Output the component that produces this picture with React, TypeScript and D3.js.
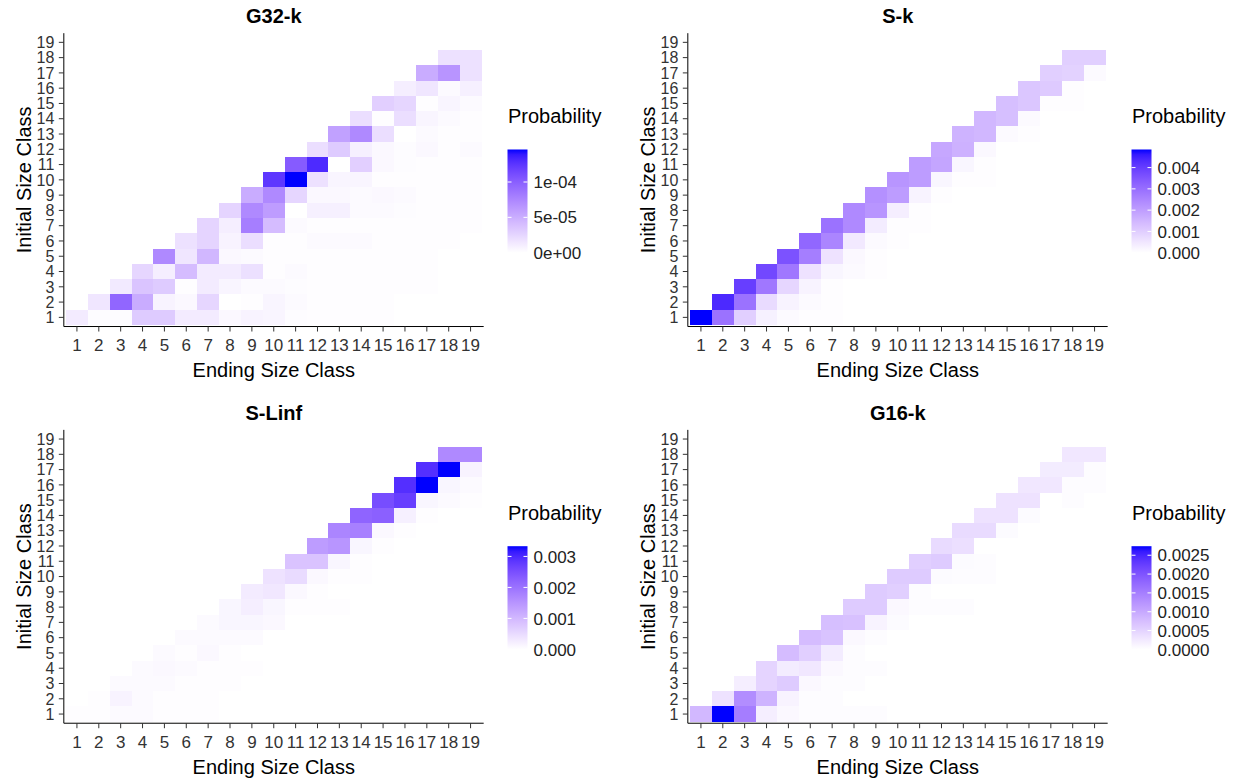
import React from "react";
import * as d3 from "d3";

// size classes on both axes
const sizeClasses = [1, 2, 3, 4, 5, 6, 7, 8, 9, 10, 11, 12, 13, 14, 15, 16, 17, 18, 19];

// each matrix: rows = initial size class 1..19, columns = ending size class 1..19
// G32-k, values in units of 1e-6
const g32kUnit = 1e-6;
const g32k = [
  [12, 2, 2, 32, 32, 12, 12, 4, 7, 6, 2, 1, 1, 1, 1, 0, 0, 0, 0],
  [0, 15, 95, 51, 7, 4, 25, 0, 1, 6, 3, 1, 1, 1, 1, 0, 0, 0, 0],
  [0, 0, 13, 36, 32, 1, 12, 6, 3, 3, 2, 1, 1, 1, 1, 1, 1, 0, 0],
  [0, 0, 0, 25, 10, 41, 12, 12, 19, 1, 3, 1, 1, 1, 1, 1, 1, 0, 0],
  [0, 0, 0, 0, 73, 15, 44, 4, 3, 1, 1, 1, 1, 1, 1, 1, 1, 0, 0],
  [0, 0, 0, 0, 0, 18, 26, 7, 20, 1, 1, 3, 3, 3, 1, 1, 1, 1, 0],
  [0, 0, 0, 0, 0, 0, 26, 10, 80, 41, 3, 1, 1, 1, 1, 1, 1, 1, 1],
  [0, 0, 0, 0, 0, 0, 0, 26, 73, 61, 0, 9, 9, 3, 3, 2, 1, 1, 1],
  [0, 0, 0, 0, 0, 0, 0, 0, 51, 73, 25, 4, 4, 3, 4, 3, 1, 1, 1],
  [0, 0, 0, 0, 0, 0, 0, 0, 0, 124, 146, 18, 6, 6, 1, 1, 1, 1, 1],
  [0, 0, 0, 0, 0, 0, 0, 0, 0, 0, 102, 131, 0, 29, 4, 2, 1, 1, 1],
  [0, 0, 0, 0, 0, 0, 0, 0, 0, 0, 0, 20, 32, 9, 4, 2, 4, 1, 3],
  [0, 0, 0, 0, 0, 0, 0, 0, 0, 0, 0, 0, 58, 73, 20, 0, 3, 1, 1],
  [0, 0, 0, 0, 0, 0, 0, 0, 0, 0, 0, 0, 0, 20, 1, 20, 6, 3, 1],
  [0, 0, 0, 0, 0, 0, 0, 0, 0, 0, 0, 0, 0, 0, 29, 25, 1, 6, 3],
  [0, 0, 0, 0, 0, 0, 0, 0, 0, 0, 0, 0, 0, 0, 0, 10, 15, 3, 9],
  [0, 0, 0, 0, 0, 0, 0, 0, 0, 0, 0, 0, 0, 0, 0, 0, 51, 66, 18],
  [0, 0, 0, 0, 0, 0, 0, 0, 0, 0, 0, 0, 0, 0, 0, 0, 0, 18, 18],
  [0, 0, 0, 0, 0, 0, 0, 0, 0, 0, 0, 0, 0, 0, 0, 0, 0, 0, 0],
];
const g32kTicks = [0, 5e-5, 1e-4];

// S-k, values in units of 1e-5
const skUnit = 1e-5;
const sk = [
  [485, 291, 97, 29, 10, 5, 5, 0, 0, 0, 0, 0, 0, 0, 0, 0, 0, 0, 0],
  [0, 437, 291, 73, 24, 10, 5, 0, 0, 0, 0, 0, 0, 0, 0, 0, 0, 0, 0],
  [0, 0, 398, 281, 82, 24, 5, 0, 0, 0, 0, 0, 0, 0, 0, 0, 0, 0, 0],
  [0, 0, 0, 378, 281, 58, 19, 10, 5, 0, 0, 0, 0, 0, 0, 0, 0, 0, 0],
  [0, 0, 0, 0, 359, 267, 58, 15, 5, 0, 0, 0, 0, 0, 0, 0, 0, 0, 0],
  [0, 0, 0, 0, 0, 315, 252, 44, 10, 5, 0, 0, 0, 0, 0, 0, 0, 0, 0],
  [0, 0, 0, 0, 0, 0, 291, 243, 39, 5, 5, 0, 0, 0, 0, 0, 0, 0, 0],
  [0, 0, 0, 0, 0, 0, 0, 243, 218, 34, 5, 0, 0, 0, 0, 0, 0, 0, 0],
  [0, 0, 0, 0, 0, 0, 0, 0, 228, 204, 24, 5, 0, 0, 0, 0, 0, 0, 0],
  [0, 0, 0, 0, 0, 0, 0, 0, 0, 218, 204, 19, 5, 5, 0, 0, 0, 0, 0],
  [0, 0, 0, 0, 0, 0, 0, 0, 0, 0, 204, 184, 19, 5, 0, 0, 0, 0, 0],
  [0, 0, 0, 0, 0, 0, 0, 0, 0, 0, 0, 179, 160, 15, 0, 0, 0, 0, 0],
  [0, 0, 0, 0, 0, 0, 0, 0, 0, 0, 0, 0, 155, 146, 10, 5, 0, 0, 0],
  [0, 0, 0, 0, 0, 0, 0, 0, 0, 0, 0, 0, 0, 146, 131, 10, 0, 0, 0],
  [0, 0, 0, 0, 0, 0, 0, 0, 0, 0, 0, 0, 0, 0, 131, 116, 5, 5, 0],
  [0, 0, 0, 0, 0, 0, 0, 0, 0, 0, 0, 0, 0, 0, 0, 116, 107, 5, 0],
  [0, 0, 0, 0, 0, 0, 0, 0, 0, 0, 0, 0, 0, 0, 0, 0, 97, 92, 10],
  [0, 0, 0, 0, 0, 0, 0, 0, 0, 0, 0, 0, 0, 0, 0, 0, 0, 97, 97],
  [0, 0, 0, 0, 0, 0, 0, 0, 0, 0, 0, 0, 0, 0, 0, 0, 0, 0, 0],
];
const skTicks = [0, 0.001, 0.002, 0.003, 0.004];

// S-Linf, values in units of 1e-5
const slinfUnit = 1e-5;
const slinf = [
  [3, 3, 7, 7, 3, 3, 3, 0, 0, 0, 0, 0, 0, 0, 0, 0, 0, 0, 0],
  [0, 3, 17, 7, 3, 3, 3, 0, 0, 0, 0, 0, 0, 0, 0, 0, 0, 0, 0],
  [0, 0, 7, 7, 7, 3, 3, 3, 0, 0, 0, 0, 0, 0, 0, 0, 0, 0, 0],
  [0, 0, 0, 7, 10, 7, 3, 3, 3, 0, 0, 0, 0, 0, 0, 0, 0, 0, 0],
  [0, 0, 0, 0, 7, 3, 10, 3, 0, 0, 0, 0, 0, 0, 0, 0, 0, 0, 0],
  [0, 0, 0, 0, 0, 7, 7, 7, 7, 0, 0, 0, 0, 0, 0, 0, 0, 0, 0],
  [0, 0, 0, 0, 0, 0, 7, 13, 13, 10, 0, 0, 0, 0, 0, 0, 0, 0, 0],
  [0, 0, 0, 0, 0, 0, 0, 13, 23, 13, 3, 3, 3, 0, 0, 0, 0, 0, 0],
  [0, 0, 0, 0, 0, 0, 0, 0, 27, 33, 10, 3, 0, 0, 0, 0, 0, 0, 0],
  [0, 0, 0, 0, 0, 0, 0, 0, 0, 40, 50, 10, 3, 3, 0, 0, 0, 0, 0],
  [0, 0, 0, 0, 0, 0, 0, 0, 0, 0, 83, 83, 13, 3, 0, 0, 0, 0, 0],
  [0, 0, 0, 0, 0, 0, 0, 0, 0, 0, 0, 140, 150, 13, 3, 0, 0, 0, 0],
  [0, 0, 0, 0, 0, 0, 0, 0, 0, 0, 0, 0, 173, 180, 10, 3, 0, 0, 0],
  [0, 0, 0, 0, 0, 0, 0, 0, 0, 0, 0, 0, 0, 220, 226, 20, 3, 0, 0],
  [0, 0, 0, 0, 0, 0, 0, 0, 0, 0, 0, 0, 0, 0, 253, 273, 13, 7, 3],
  [0, 0, 0, 0, 0, 0, 0, 0, 0, 0, 0, 0, 0, 0, 0, 293, 333, 13, 7],
  [0, 0, 0, 0, 0, 0, 0, 0, 0, 0, 0, 0, 0, 0, 0, 0, 293, 333, 17],
  [0, 0, 0, 0, 0, 0, 0, 0, 0, 0, 0, 0, 0, 0, 0, 0, 0, 167, 167],
  [0, 0, 0, 0, 0, 0, 0, 0, 0, 0, 0, 0, 0, 0, 0, 0, 0, 0, 0],
];
const slinfTicks = [0, 0.001, 0.002, 0.003];

// G16-k, values in units of 1e-5
const g16kUnit = 1e-5;
const g16k = [
  [82, 274, 151, 19, 8, 3, 3, 3, 3, 0, 0, 0, 0, 0, 0, 0, 0, 0, 0],
  [0, 33, 132, 88, 14, 3, 3, 0, 0, 0, 0, 0, 0, 0, 0, 0, 0, 0, 0],
  [0, 0, 19, 49, 60, 8, 3, 3, 0, 0, 0, 0, 0, 0, 0, 0, 0, 0, 0],
  [0, 0, 0, 49, 22, 27, 8, 3, 3, 0, 0, 0, 0, 0, 0, 0, 0, 0, 0],
  [0, 0, 0, 0, 77, 55, 22, 3, 0, 0, 0, 0, 0, 0, 0, 0, 0, 0, 0],
  [0, 0, 0, 0, 0, 77, 69, 8, 3, 0, 0, 0, 0, 0, 0, 0, 0, 0, 0],
  [0, 0, 0, 0, 0, 0, 74, 71, 14, 5, 0, 0, 0, 0, 0, 0, 0, 0, 0],
  [0, 0, 0, 0, 0, 0, 0, 60, 60, 8, 3, 3, 3, 0, 0, 0, 0, 0, 0],
  [0, 0, 0, 0, 0, 0, 0, 0, 60, 55, 3, 0, 0, 0, 0, 0, 0, 0, 0],
  [0, 0, 0, 0, 0, 0, 0, 0, 0, 60, 60, 5, 3, 3, 0, 0, 0, 0, 0],
  [0, 0, 0, 0, 0, 0, 0, 0, 0, 0, 55, 60, 5, 3, 0, 0, 0, 0, 0],
  [0, 0, 0, 0, 0, 0, 0, 0, 0, 0, 0, 41, 36, 0, 0, 0, 0, 0, 0],
  [0, 0, 0, 0, 0, 0, 0, 0, 0, 0, 0, 0, 41, 41, 5, 0, 0, 0, 0],
  [0, 0, 0, 0, 0, 0, 0, 0, 0, 0, 0, 0, 0, 33, 33, 5, 0, 0, 0],
  [0, 0, 0, 0, 0, 0, 0, 0, 0, 0, 0, 0, 0, 0, 33, 33, 0, 3, 0],
  [0, 0, 0, 0, 0, 0, 0, 0, 0, 0, 0, 0, 0, 0, 0, 27, 27, 3, 3],
  [0, 0, 0, 0, 0, 0, 0, 0, 0, 0, 0, 0, 0, 0, 0, 0, 22, 22, 3],
  [0, 0, 0, 0, 0, 0, 0, 0, 0, 0, 0, 0, 0, 0, 0, 0, 0, 27, 27],
  [0, 0, 0, 0, 0, 0, 0, 0, 0, 0, 0, 0, 0, 0, 0, 0, 0, 0, 0],
];
const g16kTicks = [0, 0.0005, 0.001, 0.0015, 0.002, 0.0025];

// ggplot style scientific labels, e.g. 5e-05
const sciLabel = (v: number) => {
  if (v === 0) return "0e+00";
  const e = Math.floor(Math.log10(v) + 1e-9);
  const m = Math.round(v / Math.pow(10, e));
  return `${m}e${e < 0 ? "-" : "+"}${String(Math.abs(e)).padStart(2, "0")}`;
};

const FONT = "'Liberation Sans', Arial, Helvetica, sans-serif";
const W = 415.5; // tile area width
const H = 290.3; // tile area height

interface PanelProps {
  id: string;
  title: string;
  values: number[][];
  unit: number;
  ticks: number[];
  fmt: (v: number) => string;
  ox: number;
  oy: number;
}

const Heatmap: React.FC<PanelProps> = ({ id, title, values, unit, ticks, fmt, ox, oy }) => {
  const x = d3.scaleBand<number>().domain(sizeClasses).range([0, W]);
  const y = d3.scaleBand<number>().domain([...sizeClasses].reverse()).range([0, H]);
  const cw = x.bandwidth();
  const ch = y.bandwidth();

  const cells = values.flatMap((row, i) =>
    row.map((v, j) => ({ from: sizeClasses[i], to: sizeClasses[j], p: v * unit }))
  );
  const max = d3.max(cells, (d) => d.p) ?? 1;
  const interp = d3.interpolateLab("#ffffff", "#0000ff");
  const color = d3.scaleSequential(interp).domain([0, max]);

  // panel edges (discrete expansion -> 0.1 cell outside the tiles)
  const axX = -0.1 * cw;
  const axY = H + 0.1 * ch;
  const topY = -0.1 * ch;
  const rightX = W + 0.1 * cw;

  // legend
  const barX = W + 26;
  const barW = 20;
  const barTop = 114.8;
  const barBottom = 218;
  const ly = d3.scaleLinear().domain([0, max]).range([barBottom, barTop]);
  const stops = d3.range(0, 1.0001, 0.05);

  return (
    <g transform={`translate(${ox},${oy})`}>
      <defs>
        <linearGradient id={id} x1="0" y1="1" x2="0" y2="0">
          {stops.map((s) => (
            <stop key={s} offset={s} stopColor={interp(s)} />
          ))}
        </linearGradient>
      </defs>
      <g shapeRendering="crispEdges">
        {cells.map((d) => (
          <rect
            key={`${d.from}-${d.to}`}
            x={x(d.to)}
            y={y(d.from)}
            width={cw}
            height={ch}
            fill={color(d.p)}
          />
        ))}
      </g>
      {/* axes */}
      <line x1={axX} x2={axX} y1={topY} y2={axY} stroke="#000" strokeWidth={1} />
      <line x1={axX} x2={rightX} y1={axY} y2={axY} stroke="#000" strokeWidth={1} />
      {sizeClasses.map((c) => {
        const cx = (x(c) ?? 0) + cw / 2;
        return (
          <g key={`x${c}`}>
            <line x1={cx} x2={cx} y1={axY} y2={axY + 5} stroke="#333" />
            <text x={cx} y={axY + 24.5} textAnchor="middle" fontSize={17} fill="#333">
              {c}
            </text>
          </g>
        );
      })}
      {sizeClasses.map((c) => {
        const cy = (y(c) ?? 0) + ch / 2;
        return (
          <g key={`y${c}`}>
            <line x1={axX - 5} x2={axX} y1={cy} y2={cy} stroke="#333" />
            <text x={axX - 9.5} y={cy} dy="0.36em" textAnchor="end" fontSize={16} fill="#333">
              {c}
            </text>
          </g>
        );
      })}
      <text x={W / 2} y={axY + 50.5} textAnchor="middle" fontSize={20} fill="#000">
        Ending Size Class
      </text>
      <text
        transform={`translate(${-35},${H / 2}) rotate(-90)`}
        textAnchor="middle"
        fontSize={20}
        fill="#000"
      >
        Initial Size Class
      </text>
      <text x={W / 2} y={-11.5} textAnchor="middle" fontSize={20} fontWeight="bold" fill="#000">
        {title}
      </text>
      {/* colour bar legend */}
      <text x={barX + 0.5} y={88.3} fontSize={20} fill="#000">
        Probability
      </text>
      <rect x={barX} y={barTop} width={barW} height={barBottom - barTop} fill={`url(#${id})`} />
      {ticks.map((t) => (
        <g key={`l${t}`}>
          <line x1={barX} x2={barX + 4} y1={ly(t)} y2={ly(t)} stroke="#fff" />
          <line x1={barX + barW - 4} x2={barX + barW} y1={ly(t)} y2={ly(t)} stroke="#fff" />
          <text x={barX + barW + 6} y={ly(t)} dy="0.36em" fontSize={17} fill="#222">
            {fmt(t)}
          </text>
        </g>
      ))}
    </g>
  );
};

const fmt3 = d3.format(".3f");
const fmt4 = d3.format(".4f");

const panels = [
  { id: "g32k", title: "G32-k", values: g32k, unit: g32kUnit, ticks: g32kTicks, fmt: sciLabel, ox: 66, oy: 34.7 },
  { id: "sk", title: "S-k", values: sk, unit: skUnit, ticks: skTicks, fmt: fmt3, ox: 690, oy: 34.7 },
  { id: "slinf", title: "S-Linf", values: slinf, unit: slinfUnit, ticks: slinfTicks, fmt: fmt3, ox: 66, oy: 431.4 },
  { id: "g16k", title: "G16-k", values: g16k, unit: g16kUnit, ticks: g16kTicks, fmt: fmt4, ox: 690, oy: 431.4 },
];

export default function App() {
  return (
    <svg
      width={1237}
      height={782}
      style={{ position: "absolute", left: 0, top: 0, background: "#fff" }}
      fontFamily={FONT}
    >
      <rect width={1237} height={782} fill="#fff" />
      {panels.map((p) => (
        <Heatmap key={p.id} {...p} />
      ))}
    </svg>
  );
}
